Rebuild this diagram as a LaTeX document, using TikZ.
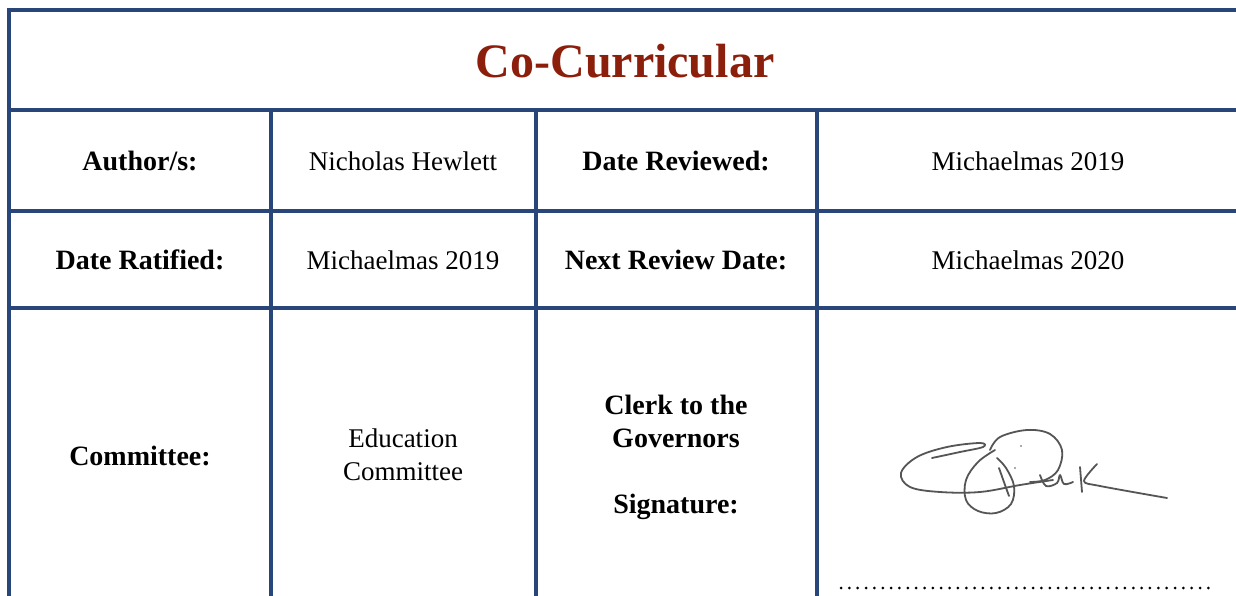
\documentclass[tikz,border=0pt]{standalone}
\usepackage{fontspec}
\setmainfont{Liberation Serif}
\definecolor{tblue}{RGB}{40,70,122}
\definecolor{tred}{RGB}{140,30,12}
\definecolor{sig}{RGB}{85,85,85}
\begin{document}
\begin{tikzpicture}[x=1pt,y=-1pt,
  grid/.style={draw=tblue,line width=4pt,line cap=rect},
  lab/.style={anchor=base,font=\fontsize{28}{33}\selectfont\bfseries,inner sep=0pt},
  val/.style={anchor=base,font=\fontsize{27}{33}\selectfont,inner sep=0pt},
  ttl/.style={anchor=base,font=\fontsize{48}{52}\selectfont\bfseries,text=tred,inner sep=0pt},
  sigline/.style={draw=sig,line width=1.8pt,line cap=round,line join=round}]
\useasboundingbox (0,0) rectangle (1236,596);
\fill[white] (0,0) rectangle (1236,596);
% grid
\draw[grid] (9,10) -- (1240,10);
\draw[grid] (9,110) -- (1240,110);
\draw[grid] (9,211) -- (1240,211);
\draw[grid] (9,308) -- (1240,308);
\draw[grid] (9,10) -- (9,600);
\draw[grid] (271,110) -- (271,600);
\draw[grid] (536,110) -- (536,600);
\draw[grid] (817,110) -- (817,600);
% title
\node[ttl] (title) at (625,78) {Co-Curricular};
% row 1
\node[lab] (author) at (140,171) {Author/s:};
\node[val] (authorv) at (403,171) {Nicholas Hewlett};
\node[lab] (rev) at (676,171) {Date Reviewed:};
\node[val] (revv) at (1028,171) {Michaelmas 2019};
% row 2
\node[lab] (rat) at (140,269) {Date Ratified:};
\node[val] (ratv) at (403,269) {Michaelmas 2019};
\node[lab] (next) at (676,269) {Next Review Date:};
\node[val] (nextv) at (1028,269) {Michaelmas 2020};
% row 3
\node[lab] (com) at (140,465) {Committee:};
\node[val] (comv1) at (403,447) {Education};
\node[val] (comv2) at (403,480) {Committee};
\node[lab] (clerk1) at (676,414) {Clerk to the};
\node[lab] (clerk2) at (676,447) {Governors};
\node[lab] (clerk3) at (676,513) {Signature:};
% dotted line
\coordinate (d1) at (841,588);
\coordinate (d2) at (1216,588);
\draw[line width=3pt,dash pattern=on 0pt off 8.35pt,line cap=round] (d1) -- (d2);
% signature
\draw[sigline] plot[smooth,tension=0.6] coordinates {(932,458) (960,452) (983,447) (980,443) (947,447) (917,457) (901,473) (910,487) (940,492) (980,492) (1020,485) (1053,480)};
\draw[sigline] plot[smooth,tension=0.6] coordinates {(995,450) (978,462) (966,480) (966,500) (978,511) (996,513) (1011,504) (1014,486) (1006,468) (997,458)};
\draw[sigline] plot[smooth,tension=0.6] coordinates {(990,450) (1000,437) (1027,430) (1050,434) (1062,450) (1058,470) (1045,480) (1030,482)};
\draw[sigline] plot[smooth,tension=0.6] coordinates {(999,468) (1005,485) (1009,496)};
\draw[sigline] plot[smooth,tension=0.6] coordinates {(1040,475) (1046,486) (1057,483) (1060,475) (1064,484) (1073,482)};
\draw[sigline] (1080,467) -- (1082,492);
\draw[sigline] plot[smooth,tension=0.5] coordinates {(1097,464) (1084,481) (1100,486) (1167,498)};
\fill[sig] (1021,446) circle (0.9);
\fill[sig] (1015,468) circle (0.9);
\end{tikzpicture}
\end{document}
